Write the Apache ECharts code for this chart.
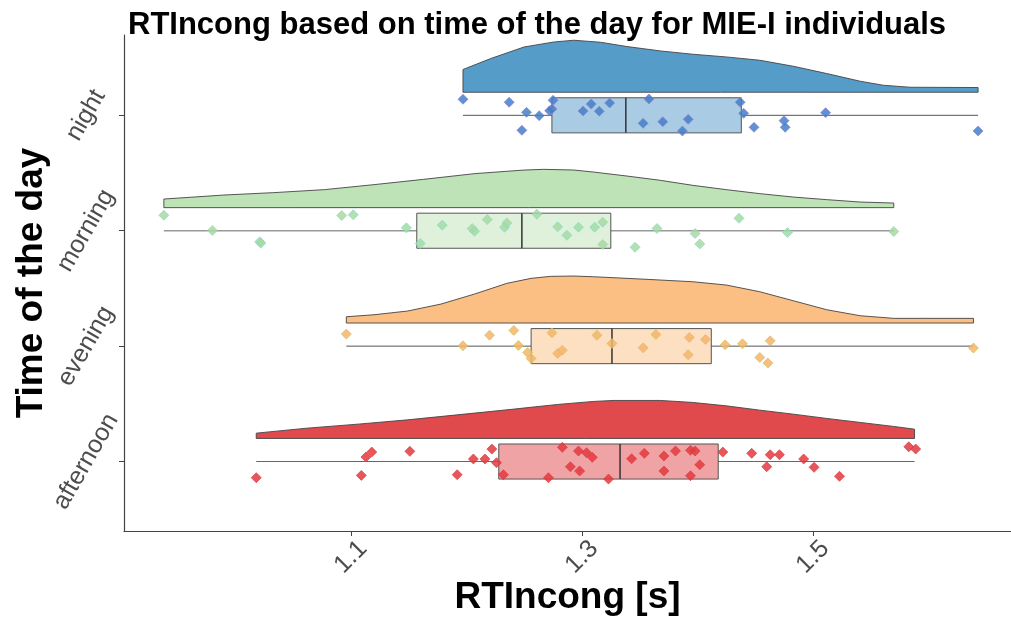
<!DOCTYPE html>
<html>
<head>
<meta charset="utf-8">
<script src="https://cdn.jsdelivr.net/npm/echarts@6/dist/echarts.min.js"></script>
<style>
  html, body { margin: 0; padding: 0; background: #fff; }
  #chart { width: 1011px; height: 619px; }
</style>
</head>
<body>
<div id="chart"></div>
<script>
// categories bottom -> top (y = 1..4)
var categories = ['afternoon', 'evening', 'morning', 'night'];
var xTickValues = [1.1, 1.3, 1.5];
var xTickLabels = ['1.1', '1.3', '1.5'];

// half-violin densities (x in s, density height)
var afternoonDensX = [1.018, 1.062, 1.106, 1.149, 1.192, 1.235, 1.279, 1.310, 1.327, 1.368, 1.396, 1.425, 1.454, 1.483, 1.512, 1.541, 1.570, 1.588];
var afternoonDens  = [0.53, 1.03, 1.43, 1.86, 2.36, 2.86, 3.40, 3.70, 3.80, 3.80, 3.60, 3.26, 2.83, 2.43, 2.00, 1.60, 1.20, 0.93];
var eveningDensX = [1.096, 1.120, 1.149, 1.178, 1.207, 1.235, 1.256, 1.273, 1.293, 1.310, 1.339, 1.368, 1.396, 1.425, 1.454, 1.483, 1.512, 1.541, 1.570, 1.598, 1.639];
var eveningDens  = [0.63, 0.83, 1.20, 1.90, 2.90, 3.97, 4.47, 4.67, 4.70, 4.63, 4.47, 4.30, 4.13, 3.80, 3.13, 2.23, 1.33, 0.73, 0.47, 0.47, 0.47];
var morningDensX = [0.938, 0.990, 1.033, 1.077, 1.120, 1.163, 1.207, 1.250, 1.267, 1.293, 1.310, 1.339, 1.368, 1.396, 1.425, 1.454, 1.483, 1.512, 1.541, 1.570];
var morningDens  = [0.86, 1.26, 1.50, 1.80, 2.30, 2.83, 3.40, 3.76, 3.83, 3.76, 3.56, 3.16, 2.73, 2.23, 1.80, 1.40, 1.06, 0.80, 0.56, 0.46];
var nightDensX = [1.197, 1.221, 1.250, 1.276, 1.293, 1.316, 1.339, 1.368, 1.396, 1.425, 1.454, 1.483, 1.512, 1.541, 1.561, 1.584, 1.643];
var nightDens  = [2.27, 3.37, 4.53, 5.03, 5.20, 5.00, 4.57, 4.13, 3.80, 3.53, 3.20, 2.60, 1.87, 1.10, 0.70, 0.50, 0.47];

// box stats per category
var boxMin = [1.018, 1.096, 0.938, 1.197];
var boxQ1  = [1.228, 1.256, 1.157, 1.274];
var boxMed = [1.333, 1.326, 1.248, 1.338];
var boxQ3  = [1.418, 1.412, 1.325, 1.438];
var boxMax = [1.588, 1.639, 1.570, 1.643];

// jittered raw points [RT, y]
var afternoonPts = [[1.018,0.860],[1.109,0.880],[1.113,1.039],[1.118,1.082],[1.151,1.088],[1.192,0.886],[1.206,1.022],[1.216,1.022],[1.222,1.108],[1.226,0.990],[1.232,0.886],[1.271,0.860],[1.283,1.123],[1.290,0.955],[1.297,1.091],[1.304,1.076],[1.309,1.036],[1.298,0.918],[1.323,0.848],[1.343,1.024],[1.354,1.071],[1.371,1.048],[1.371,0.918],[1.381,1.091],[1.394,1.097],[1.398,1.091],[1.402,0.972],[1.394,0.877],[1.422,1.082],[1.447,1.071],[1.463,1.059],[1.471,1.059],[1.460,0.955],[1.492,1.022],[1.501,0.950],[1.523,0.872],[1.583,1.128],[1.589,1.108]];
var eveningPts = [[1.096,2.104],[1.197,2.003],[1.220,2.095],[1.241,2.136],[1.245,2.006],[1.253,1.945],[1.256,1.893],[1.274,2.115],[1.279,1.937],[1.283,1.965],[1.313,2.095],[1.326,2.023],[1.353,1.985],[1.364,2.101],[1.393,2.075],[1.392,1.925],[1.407,2.058],[1.424,2.011],[1.439,2.020],[1.463,2.046],[1.454,1.902],[1.461,1.853],[1.639,1.983]];
var morningPts = [[0.938,3.134],[0.980,3.002],[1.021,2.904],[1.022,2.892],[1.092,3.132],[1.102,3.138],[1.148,3.025],[1.160,2.889],[1.179,3.048],[1.205,3.019],[1.207,2.996],[1.218,3.097],[1.233,3.030],[1.235,3.068],[1.261,3.143],[1.279,3.034],[1.287,2.961],[1.297,3.030],[1.311,3.030],[1.318,3.074],[1.318,2.880],[1.346,2.857],[1.365,3.019],[1.398,2.976],[1.402,2.886],[1.436,3.108],[1.478,2.984],[1.570,2.993]];
var nightPts = [[1.197,4.139],[1.237,4.113],[1.252,4.026],[1.263,3.997],[1.248,3.870],[1.275,4.130],[1.274,4.055],[1.272,4.040],[1.301,4.037],[1.308,4.098],[1.315,4.035],[1.324,4.107],[1.358,4.141],[1.353,3.931],[1.370,3.945],[1.392,3.965],[1.387,3.864],[1.437,4.113],[1.440,4.017],[1.449,3.896],[1.475,3.953],[1.476,3.896],[1.511,4.023],[1.643,3.864]];

var densX = [afternoonDensX, eveningDensX, morningDensX, nightDensX];
var dens = [afternoonDens, eveningDens, morningDens, nightDens];
var pts = [afternoonPts, eveningPts, morningPts, nightPts];

var violinFill = ['#e04a4d', '#fbbe83', '#bde3b7', '#569cc9'];
var boxFill = ['#efa3a5', '#fddfc1', '#dff1db', '#a9cbe4'];
var whiskerColor = ['#666', '#555', '#999', '#555'];
var pointFill = ['#e0393e', '#f6b46a', '#a8d9a0', '#437fc6'];
var pointBorder = ['#e0393e', '#cfc25e', '#7fdccc', '#8a82dc'];

var DENS_SCALE = 10 / 115.4;   // density -> y units
var VIOLIN_OFFSET = 0.2;
var BOX_HALF = 0.152;

try {
    var chart = echarts.init(document.getElementById('chart'));
    var series = [];

    categories.forEach(function (c, i) {
        series.push({
            type: 'custom',
            silent: true,
            z: 2,
            data: [[densX[i][0], i + 1 + VIOLIN_OFFSET]],
            renderItem: function (params, api) {
                var base = i + 1 + VIOLIN_OFFSET;
                var xs = densX[i], ds = dens[i];
                var p = xs.map(function (x, k) { return api.coord([x, base + ds[k] * DENS_SCALE]); });
                p.push(api.coord([xs[xs.length - 1], base]));
                p.push(api.coord([xs[0], base]));
                return {
                    type: 'polygon',
                    shape: { points: p },
                    style: { fill: violinFill[i], stroke: '#444', lineWidth: 0.9 }
                };
            }
        });
    });

    series.push({
        type: 'custom',
        silent: true,
        z: 3,
        encode: { x: [1, 2, 3, 4, 5], y: 0 },
        data: categories.map(function (c, i) {
            return [i + 1, boxMin[i], boxQ1[i], boxMed[i], boxQ3[i], boxMax[i]];
        }),
        renderItem: function (params, api) {
            var i = params.dataIndex;
            var y = api.value(0);
            var a = api.coord([api.value(1), y]);
            var b = api.coord([api.value(5), y]);
            var lt = api.coord([api.value(2), y + BOX_HALF]);
            var rb = api.coord([api.value(4), y - BOX_HALF]);
            var mt = api.coord([api.value(3), y + BOX_HALF]);
            var mb = api.coord([api.value(3), y - BOX_HALF]);
            return {
                type: 'group',
                children: [
                    { type: 'line', shape: { x1: a[0], y1: a[1], x2: b[0], y2: b[1] },
                      style: { stroke: whiskerColor[i], lineWidth: i === 2 ? 1.6 : 1 } },
                    { type: 'rect', shape: { x: lt[0], y: lt[1], width: rb[0] - lt[0], height: rb[1] - lt[1] },
                      style: { fill: boxFill[i], stroke: '#555', lineWidth: 1 } },
                    { type: 'line', shape: { x1: mt[0], y1: mt[1], x2: mb[0], y2: mb[1] },
                      style: { stroke: '#333', lineWidth: 1.5 } }
                ]
            };
        }
    });

    categories.forEach(function (c, i) {
        series.push({
            type: 'scatter',
            name: c,
            z: 4,
            symbol: 'diamond',
            symbolSize: 10,
            data: pts[i],
            itemStyle: { color: pointFill[i], borderColor: pointBorder[i], borderWidth: 0.8, opacity: 0.85 }
        });
    });

    var option = {
        animation: false,
        textStyle: { fontFamily: 'Liberation Sans, Arial, sans-serif' },
        title: {
            text: 'RTIncong based on time of the day for MIE-I individuals',
            left: 123, top: 5,
            textStyle: { fontSize: 31, fontWeight: 'bold', color: '#000' }
        },
        grid: { left: 124, right: 0, top: 35, bottom: 88, containLabel: false, outerBoundsMode: 'none' },
        xAxis: {
            type: 'value',
            min: 0.9035, max: 1.6715,
            name: 'RTIncong [s]',
            nameLocation: 'middle',
            nameGap: 48,
            nameMoveOverlap: false,
            nameTextStyle: { fontSize: 37, fontWeight: 'bold', color: '#000' },
            axisLine: { show: true, lineStyle: { color: '#444', width: 1.2 } },
            axisTick: { show: true, length: 5, customValues: xTickValues, lineStyle: { color: '#444' } },
            axisLabel: {
                customValues: xTickValues,
                formatter: function (v) { return xTickLabels[xTickValues.indexOf(v)] || ''; },
                rotate: 45, align: 'center', verticalAlign: 'middle', margin: 26,
                fontSize: 25, color: '#4d4d4d'
            },
            splitLine: { show: false }
        },
        yAxis: {
            type: 'value',
            min: 0.398, max: 4.696,
            name: 'Time of the day',
            nameLocation: 'middle',
            nameGap: 74,
            nameMoveOverlap: false,
            nameTextStyle: { fontSize: 37, fontWeight: 'bold', color: '#000' },
            axisLine: { show: true, lineStyle: { color: '#444', width: 1.2 } },
            axisTick: { show: true, length: 5, customValues: [1, 2, 3, 4], lineStyle: { color: '#444' } },
            axisLabel: {
                customValues: [1, 2, 3, 4],
                formatter: function (v) { return categories[Math.round(v) - 1] || ''; },
                rotate: 60, align: 'center', verticalAlign: 'middle', margin: 38,
                fontSize: 25, color: '#4d4d4d'
            },
            splitLine: { show: false }
        },
        series: series
    };
    chart.setOption(option);
} catch (error) {
    console.error('Failed to draw chart');
    console.error(error);
}
</script>
</body>
</html>
